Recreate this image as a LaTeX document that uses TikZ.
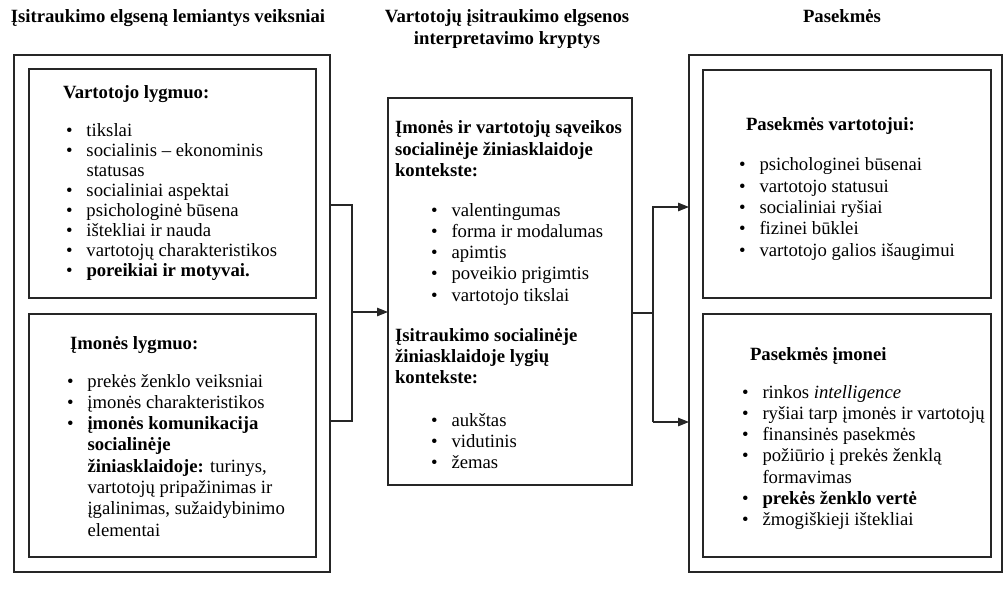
\documentclass[tikz,border=0pt]{standalone}
\usepackage{fontspec}
\setmainfont{Liberation Serif}
\usetikzlibrary{arrows.meta}

% bullet with a fixed hanging indent, and the matching indent for wrapped lines
\newcommand{\bitem}{\makebox[20.5pt][l]{\textbullet}}
\newcommand{\bcont}{\hspace*{20.5pt}}
\newcommand{\txtsize}{\fontsize{18.7pt}{21.3pt}\selectfont}
\newcommand{\tightsize}{\fontsize{18.7pt}{20pt}\selectfont}

\begin{document}
\begin{tikzpicture}[x=1pt,y=-1pt,
  frame/.style={draw=black!85, line width=1.1pt, inner sep=0pt, outer sep=0pt},
  lst/.style={anchor=base west, inner sep=0pt, outer sep=0pt, font=\txtsize},
  ttl/.style={anchor=base, inner sep=0pt, outer sep=0pt, font=\txtsize\bfseries},
  conn/.style={draw=black!85, line width=1.1pt},
  arr/.style={conn, -{Triangle[length=11pt,width=8.5pt]}}]

\useasboundingbox (0,0) rectangle (1003,596);
\fill[white] (0,0) rectangle (1003,596);

% column titles
\node[ttl] (t1) at (168,23) {Įsitraukimo elgseną lemiantys veiksniai};
\node[ttl] (t2) at (507,23) {\begin{tabular}[t]{@{}c@{}}Vartotojų įsitraukimo elgsenos\\[0.7pt] interpretavimo kryptys\end{tabular}};
\node[ttl] (t3) at (842,23) {Pasekmės};

% frames
\node[frame, minimum width=316pt, minimum height=517pt] (outerL) at (172,313.5) {};
\node[frame, minimum width=287pt, minimum height=229pt] (inLT) at (172.5,183.5) {};
\node[frame, minimum width=287pt, minimum height=243pt] (inLB) at (172.5,435.5) {};
\node[frame, minimum width=244pt, minimum height=387pt] (mid) at (510,291.5) {};
\node[frame, minimum width=313pt, minimum height=517pt] (outerR) at (845.5,313.5) {};
\node[frame, minimum width=288pt, minimum height=228pt] (inRT) at (847,184) {};
\node[frame, minimum width=288pt, minimum height=243pt] (inRB) at (847,435.5) {};

% consumer level
\node[lst, font=\txtsize\bfseries] (hLT) at (63,99) {Vartotojo lygmuo:};
\node[lst, font=\tightsize] (lLT) at (66,137) {\begin{tabular}[t]{@{}l@{}}
\bitem tikslai\\
\bitem socialinis -- ekonominis\\
\bcont statusas\\
\bitem socialiniai aspektai\\
\bitem psichologinė būsena\\
\bitem ištekliai ir nauda\\
\bitem vartotojų charakteristikos\\
\bitem \textbf{poreikiai ir motyvai.}
\end{tabular}};

% company level
\node[lst, font=\txtsize\bfseries] (hLB) at (70,349) {Įmonės lygmuo:};
\node[lst] (lLB) at (67,387) {\begin{tabular}[t]{@{}l@{}}
\bitem prekės ženklo veiksniai\\
\bitem įmonės charakteristikos\\
\bitem \textbf{įmonės komunikacija}\\
\bcont \textbf{socialinėje}\\
\bcont \textbf{žiniasklaidoje:} turinys,\\
\bcont vartotojų pripažinimas ir\\
\bcont įgalinimas, sužaidybinimo\\
\bcont elementai
\end{tabular}};

% interpretation directions
\node[lst, font=\txtsize\bfseries] (hM1) at (395,134) {\begin{tabular}[t]{@{}l@{}}
Įmonės ir vartotojų sąveikos\\
socialinėje žiniasklaidoje\\
kontekste:
\end{tabular}};
\node[lst] (lM1) at (431,216) {\begin{tabular}[t]{@{}l@{}}
\bitem valentingumas\\
\bitem forma ir modalumas\\
\bitem apimtis\\
\bitem poveikio prigimtis\\
\bitem vartotojo tikslai
\end{tabular}};
\node[lst, font=\txtsize\bfseries] (hM2) at (395,341) {\begin{tabular}[t]{@{}l@{}}
Įsitraukimo socialinėje\\
žiniasklaidoje lygių\\
kontekste:
\end{tabular}};
\node[lst] (lM2) at (431,426) {\begin{tabular}[t]{@{}l@{}}
\bitem aukštas\\
\bitem vidutinis\\
\bitem žemas
\end{tabular}};

% consequences for the consumer
\node[lst, font=\txtsize\bfseries] (hRT) at (746,131) {Pasekmės vartotojui:};
\node[lst] (lRT) at (739,171) {\begin{tabular}[t]{@{}l@{}}
\bitem psichologinei būsenai\\
\bitem vartotojo statusui\\
\bitem socialiniai ryšiai\\
\bitem fizinei būklei\\
\bitem vartotojo galios išaugimui
\end{tabular}};

% consequences for the company
\node[lst, font=\txtsize\bfseries] (hRB) at (750,360) {Pasekmės įmonei};
\node[lst] (lRB) at (742,398) {\begin{tabular}[t]{@{}l@{}}
\bitem rinkos \textit{intelligence}\\
\bitem ryšiai tarp įmonės ir vartotojų\\
\bitem finansinės pasekmės\\
\bitem požiūrio į prekės ženklą\\
\bcont formavimas\\
\bitem \textbf{prekės ženklo vertė}\\
\bitem žmogiškieji ištekliai
\end{tabular}};

% connectors
\coordinate (jl)  at (352,312);
\coordinate (jlt) at (352,205);
\coordinate (jlb) at (352,421);
\coordinate (jr)  at (653,313);
\coordinate (jrt) at (653,207);
\coordinate (jrb) at (653,422);

\draw[conn] (jlt -| outerL.east) -- (jlt) -- (jlb) -- (jlb -| outerL.east);
\draw[arr] (jl) -- (jl -| mid.west);
\draw[conn] (jr -| mid.east) -- (jr);
\draw[arr] (jrb) -- (jrt) -- (jrt -| outerR.west);
\draw[arr] (jrb) -- (jrb -| outerR.west);
\end{tikzpicture}
\end{document}
